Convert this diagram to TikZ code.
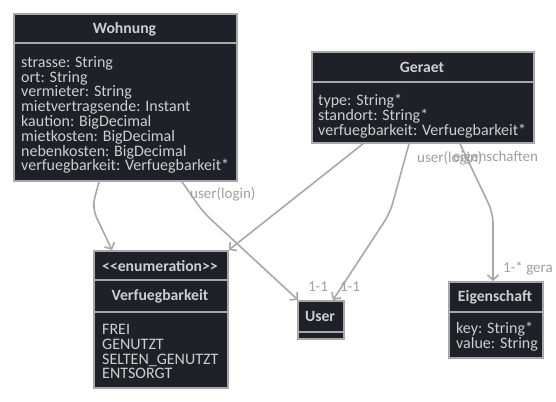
\documentclass[tikz,border=0pt]{standalone}
\usepackage{fontspec}
\setmainfont{Carlito}
\usetikzlibrary{arrows.meta}
\definecolor{boxfill}{RGB}{31,33,40}
\definecolor{edgegray}{RGB}{168,168,168}
\definecolor{txtgray}{RGB}{206,206,206}
\definecolor{lblgray}{RGB}{160,160,160}
\tikzset{
  classbox/.style={draw=edgegray, fill=boxfill, line width=1.8pt, anchor=north west, inner sep=0pt},
  classname/.style={text=txtgray, font=\fontsize{15.7}{15}\selectfont\bfseries, inner sep=0pt},
  attrs/.style={text=txtgray, font=\fontsize{16}{14.8}\selectfont, align=left, anchor=north west, inner sep=0pt},
  divider/.style={draw=edgegray, line width=1.8pt},
  link/.style={draw=edgegray, line width=1.6pt, rounded corners=10pt, -{Straight Barb[length=5pt,width=11pt]}},
  lbl/.style={text=lblgray, font=\fontsize{15}{15}\selectfont, inner sep=0pt}
}
\begin{document}
\begin{tikzpicture}[x=1pt,y=-1pt]
    \useasboundingbox[fill=white] (0,0) rectangle (556,401);

    % Draw the class boxes
    \node[classbox, minimum width=223pt, minimum height=167pt] (wohnung) at (13,13) {};
    \node[classbox, minimum width=222pt, minimum height=91pt] (geraet) at (311,51) {};
    \node[classbox, minimum width=134pt, minimum height=137pt] (verf) at (93,250) {};
    \node[classbox, minimum width=46pt, minimum height=38pt] (user) at (297,300) {};
    \node[classbox, minimum width=94pt, minimum height=76pt] (eigen) at (448,281) {};

    % Draw the compartment lines
    \draw[divider] ([yshift=-30pt]wohnung.north west) -- ([yshift=-30pt]wohnung.north east);
    \draw[divider] ([yshift=-31pt]geraet.north west) -- ([yshift=-31pt]geraet.north east);
    \draw[divider] ([yshift=-30pt]verf.north west) -- ([yshift=-30pt]verf.north east);
    \draw[divider] ([yshift=-62pt]verf.north west) -- ([yshift=-62pt]verf.north east);
    \draw[divider] ([yshift=-32pt]user.north west) -- ([yshift=-32pt]user.north east);
    \draw[divider] ([yshift=-31pt]eigen.north west) -- ([yshift=-31pt]eigen.north east);

    % Add the class names and fields
    \node[classname] (wohnungName) at (124.5,29) {Wohnung};
    \node[attrs] (wohnungAttrs) at (21,56) {strasse: String\\ort: String\\vermieter: String\\mietvertragsende: Instant\\kaution: BigDecimal\\mietkosten: BigDecimal\\nebenkosten: BigDecimal\\verfuegbarkeit: Verfuegbarkeit*};
    \node[classname] (geraetName) at (422,67) {Geraet};
    \node[attrs] (geraetAttrs) at (318,94) {type: String*\\standort: String*\\verfuegbarkeit: Verfuegbarkeit*};
    \node[classname] (verfStereo) at (160,266) {{<}{<}enumeration{>}{>}};
    \node[classname] (verfName) at (160,296) {Verfuegbarkeit};
    \node[attrs] (verfValues) at (102,324) {FREI\\GENUTZT\\SELTEN\_GENUTZT\\ENTSORGT};
    \node[classname] (userName) at (320,316) {User};
    \node[classname] (eigenName) at (495,297) {Eigenschaft};
    \node[attrs] (eigenAttrs) at (456,322) {key: String*\\value: String};

    % Draw the associations
    \draw[link] ([xshift=86pt]wohnung.south west) -- (92,208) -- ([xshift=19pt]verf.north west);
    \draw[link] ([xshift=169pt]wohnung.south west) -- (203,212) -- ([xshift=1pt]user.north west);
    \draw[link] ([xshift=52pt]geraet.south west) -- (verf.north east);
    \draw[link] ([xshift=98pt]geraet.south west) -- (390,213) -- ([xshift=36pt]user.north west);
    \draw[link] ([xshift=149pt]geraet.south west) -- (493,213) -- ([xshift=45pt]eigen.north west);

    % Add the association labels
    \node[lbl, anchor=west] (loginW) at (190,194) {user(login)};
    \node[lbl, anchor=west] (loginG) at (417,158) {user(login)};
    \node[lbl, anchor=west] (eigenLbl) at (453,158) {eigenschaften};
    \node[lbl] (cardW) at (318,287) {1-1};
    \node[lbl] (cardG) at (350,287) {1-1};
    \node[lbl, anchor=west] (cardE) at (503,268) {1-* gera};
\end{tikzpicture}
\end{document}
